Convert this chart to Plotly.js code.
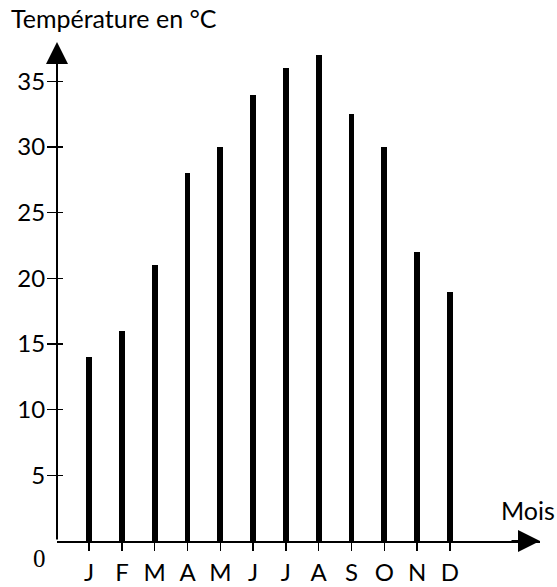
<!DOCTYPE html>
<html>
<head>
<meta charset="utf-8">
<script src="https://cdn.plot.ly/plotly-3.0.1.min.js"></script>
<style>html,body{margin:0;padding:0;background:#fff}#chart{width:557px;height:587px}</style>
</head>
<body>
<div id="chart"></div>
<script>
const months = ["J","F","M","A","M","J","J","A","S","O","N","D"];
const temperatures = [14, 16, 21, 28, 30, 34, 36, 37, 32.5, 30, 22, 19];
const yTicks = [5, 10, 15, 20, 25, 30, 35];

const idx = months.map((m, i) => i);
const FONT = "Lato, 'Open Sans', sans-serif";

const traces = [
  {
    type: "bar",
    x: idx,
    y: temperatures,
    width: 0.18,
    marker: {color: "#000", line: {width: 0}},
    hoverinfo: "skip"
  }
];

const W = 557, H = 587;
const M = {l: 57, r: 17, t: 42, b: 46};
const plotW = W - M.l - M.r;
const plotH = H - M.t - M.b;

const layout = {
  width: W,
  height: H,
  margin: {l: M.l, r: M.r, t: M.t, b: M.b, pad: 0},
  paper_bgcolor: "#fff",
  plot_bgcolor: "#fff",
  showlegend: false,
  bargap: 0,
  font: {family: FONT, color: "#000", size: 25},
  xaxis: {
    range: [-0.98, 13.75],
    tickmode: "array",
    tickvals: idx,
    ticktext: months,
    ticks: "outside",
    ticklen: 8,
    tickwidth: 1.5,
    tickcolor: "#000",
    showline: true,
    linecolor: "#000",
    linewidth: 2,
    showgrid: false,
    zeroline: false,
    ticklabelstandoff: 1,
    tickfont: {family: FONT, size: 24, color: "#000"}
  },
  yaxis: {
    range: [0, 38],
    anchor: "free",
    position: 6 / plotW,
    side: "left",
    tickmode: "array",
    tickvals: yTicks,
    ticks: "outside",
    ticklen: 16,
    tickwidth: 1.5,
    tickcolor: "#000",
    showline: false,
    showgrid: false,
    zeroline: false,
    ticklabelstandoff: -3,
    tickfont: {family: FONT, size: 24, color: "#000"}
  },
  annotations: [
    {xref: "paper", yref: "paper", x: 0, y: 1, ax: 0, ay: plotH, axref: "pixel", ayref: "pixel",
     showarrow: true, arrowhead: 2, arrowsize: 2.2, arrowwidth: 2, arrowcolor: "#000", text: ""},
    {xref: "paper", yref: "paper", x: 1, y: 0, ax: -30, ay: 0, axref: "pixel", ayref: "pixel",
     showarrow: true, arrowhead: 2, arrowsize: 2.2, arrowwidth: 2, arrowcolor: "#000", text: ""},
    {xref: "paper", yref: "paper", x: 0, y: 1, xshift: -48, yshift: 24, xanchor: "left", yanchor: "middle",
     showarrow: false, text: "Température en °C", font: {family: FONT, size: 25, color: "#000"}},
    {xref: "paper", yref: "paper", x: 1, y: 0, xshift: 17, yshift: 31, xanchor: "right", yanchor: "middle",
     showarrow: false, text: "Mois", font: {family: FONT, size: 25, color: "#000"}},
    {xref: "paper", yref: "paper", x: 0, y: 0, xshift: -18, yshift: -17, xanchor: "center", yanchor: "middle",
     showarrow: false, text: "0", font: {family: "'Liberation Serif', 'Times New Roman', serif", size: 25, color: "#000"}}
  ]
};

Plotly.newPlot("chart", traces, layout, {staticPlot: true, displayModeBar: false});
</script>
</body>
</html>
